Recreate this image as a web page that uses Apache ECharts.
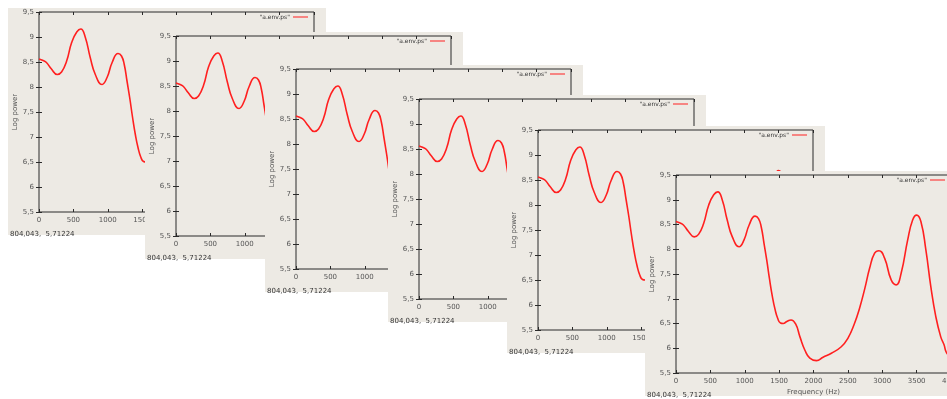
<!DOCTYPE html>
<html>
<head>
<meta charset="utf-8">
<script src="https://cdn.jsdelivr.net/npm/echarts@6/dist/echarts.min.js"></script>
<style>
  html, body { margin: 0; padding: 0; background: #ffffff; }
  #chart { width: 947px; height: 399px; }
</style>
</head>
<body>
<div id="chart"></div>
<script>
// Log power spectrum envelope, frequency in Hz
const seriesName = '"a.env.ps"';
const freqHz = [0, 60, 108, 181, 265, 328, 402, 475, 549, 608, 672, 745, 819, 917, 990, 1064, 1150, 1200, 1240, 1280, 1320, 1360, 1400, 1440, 1480, 1520, 1560, 1611, 1673, 1740, 1803, 1875, 1947, 2043, 2139, 2260, 2404, 2500, 2596, 2668, 2745, 2817, 2889, 2952, 3034, 3130, 3202, 3274, 3370, 3442, 3500, 3562, 3635, 3707, 3779, 3851, 3899, 3928, 3970];
const logPower = [8.56, 8.53, 8.49, 8.36, 8.25, 8.30, 8.52, 8.89, 9.10, 9.16, 9.00, 8.59, 8.25, 8.05, 8.19, 8.49, 8.67, 8.62, 8.45, 8.12, 7.78, 7.40, 7.06, 6.79, 6.60, 6.51, 6.50, 6.54, 6.57, 6.49, 6.23, 5.96, 5.80, 5.75, 5.82, 5.90, 6.03, 6.20, 6.50, 6.80, 7.20, 7.62, 7.92, 7.97, 7.82, 7.38, 7.28, 7.51, 8.19, 8.59, 8.69, 8.56, 7.98, 7.24, 6.64, 6.23, 6.07, 5.93, 5.85];
const xTicks = [0, 500, 1000, 1500, 2000, 2500, 3000, 3500, 4000];
const yTicks = [5.5, 6, 6.5, 7, 7.5, 8, 8.5, 9, 9.5];
const cursorReadout = '804,043,  5,71224';
const yAxisTitle = 'Log power';
const xAxisTitle = 'Frequency (Hz)';

// Stacked plot windows: plot-area left/top/height in pixels
const windows = [
  { left: 39,  top: 12,  height: 200 },
  { left: 176, top: 36,  height: 200 },
  { left: 296, top: 69,  height: 200 },
  { left: 419, top: 99,  height: 200 },
  { left: 538, top: 130, height: 200 },
  { left: 676, top: 175, height: 198 }
];
const PLOT_W = 275;
const WIN_BG = '#EDEAE4';
const INK = '#2a2a2a';
const LABEL = '#555555';
const FONT = 'DejaVu Sans';

const points = freqHz.map((f, i) => [f, logPower[i]]);
const comma = v => String(v).replace('.', ',');

const grids = [], xAxes = [], yAxes = [], series = [], graphics = [];

windows.forEach((w, i) => {
  const base = 10 * (i + 1);
  grids.push({
    left: w.left, top: w.top, width: PLOT_W, height: w.height,
    outerBoundsMode: 'none', containLabel: false,
    show: true, borderColor: INK, borderWidth: 1,
    backgroundColor: 'transparent', z: base + 1
  });
  const xCommon = {
    type: 'value', gridIndex: i,
    min: xTicks[0], max: xTicks[xTicks.length - 1], interval: xTicks[1] - xTicks[0],
    axisLine: { show: false },
    axisTick: { show: true, inside: true, length: 3, lineStyle: { color: INK, width: 1 } },
    splitLine: { show: false }, z: base + 1
  };
  xAxes.push(Object.assign({}, xCommon, {
    position: 'bottom',
    axisLabel: { show: true, fontSize: 7, color: LABEL, fontFamily: FONT, margin: 5, formatter: v => String(v) },
    name: xAxisTitle, nameLocation: 'middle', nameGap: 16,
    nameTextStyle: { fontSize: 7, color: LABEL, fontFamily: FONT }
  }));
  xAxes.push(Object.assign({}, xCommon, {
    position: 'top', axisLabel: { show: false }
  }));
  const yCommon = {
    type: 'value', gridIndex: i,
    min: yTicks[0], max: yTicks[yTicks.length - 1], interval: yTicks[1] - yTicks[0],
    axisLine: { show: false },
    axisTick: { show: true, inside: true, length: 3, lineStyle: { color: INK, width: 1 } },
    splitLine: { show: false }, z: base + 1
  };
  yAxes.push(Object.assign({}, yCommon, {
    position: 'left',
    axisLabel: { show: true, fontSize: 7, color: LABEL, fontFamily: FONT, margin: 5, formatter: comma },
    name: yAxisTitle, nameLocation: 'middle', nameGap: 17, nameRotate: 90,
    nameTextStyle: { fontSize: 7, color: LABEL, fontFamily: FONT }
  }));
  yAxes.push(Object.assign({}, yCommon, {
    position: 'right', axisLabel: { show: false }
  }));
  series.push({
    type: 'line', name: seriesName,
    xAxisIndex: 2 * i, yAxisIndex: 2 * i,
    data: points, smooth: 0.5, showSymbol: false, clip: true,
    lineStyle: { color: '#ff2020', width: 1.6 },
    z: base + 2, silent: true
  });
  // window background
  graphics.push({
    type: 'rect', z: base,
    shape: { x: w.left - 31, y: w.top - 4, width: 318, height: w.height + 27 },
    style: { fill: WIN_BG }
  });
  // key entry
  graphics.push({
    type: 'text', z: base + 3, x: w.left + 251, y: w.top + 5,
    style: { text: seriesName, align: 'right', verticalAlign: 'middle', fontSize: 6, fill: '#333', fontFamily: FONT }
  });
  graphics.push({
    type: 'line', z: base + 3,
    shape: { x1: w.left + 254, y1: w.top + 5, x2: w.left + 269, y2: w.top + 5 },
    style: { stroke: '#ff2020', lineWidth: 1 }
  });
  // mouse coordinate readout
  graphics.push({
    type: 'text', z: base + 3, x: w.left - 29, y: w.height + w.top + 22,
    style: { text: cursorReadout, align: 'left', verticalAlign: 'middle', fontSize: 7, fill: '#333', fontFamily: FONT }
  });
});

const chart = echarts.init(document.getElementById('chart'), null, { renderer: 'canvas' });
chart.setOption({
  animation: false,
  backgroundColor: '#ffffff',
  grid: grids, xAxis: xAxes, yAxis: yAxes, series: series,
  graphic: { elements: graphics }
});
</script>
</body>
</html>
